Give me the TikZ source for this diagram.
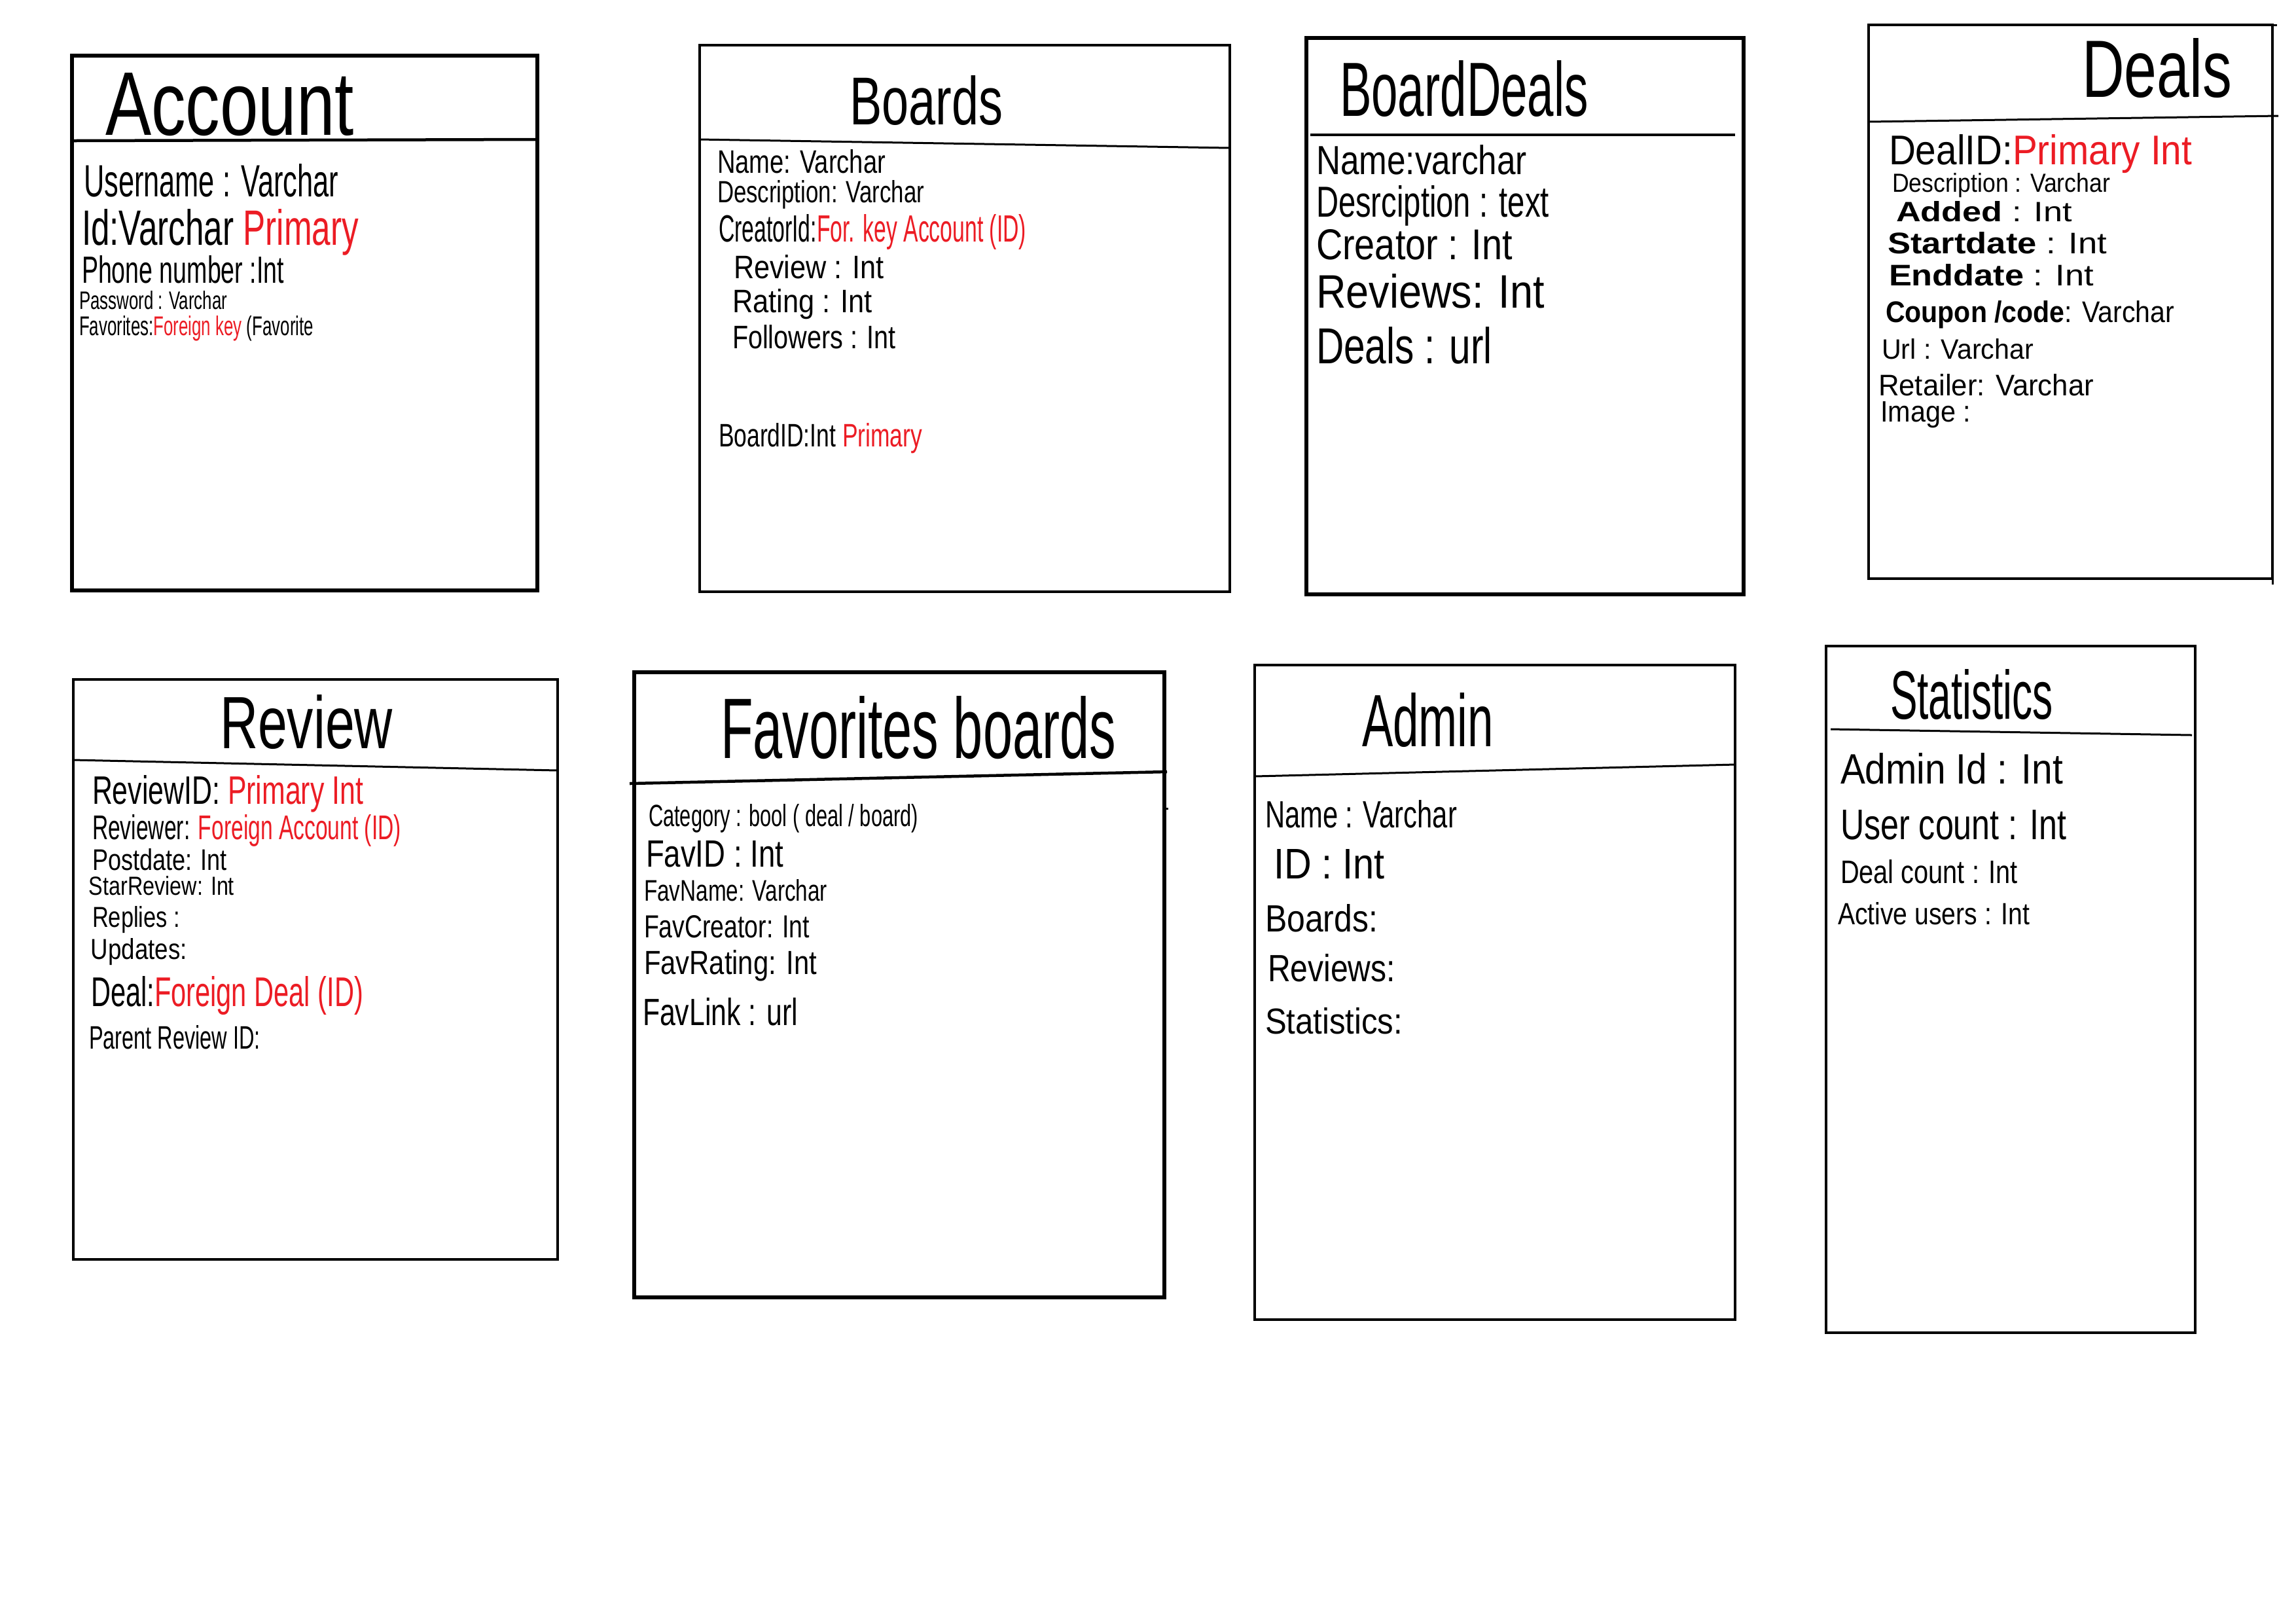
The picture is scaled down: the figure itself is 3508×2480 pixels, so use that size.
\documentclass[tikz,border=0pt]{standalone}
\usepackage{fontspec}
\setmainfont{Liberation Sans}
\usepackage{graphicx}
\usetikzlibrary{calc}
\newlength\pxu
\setlength\pxu{0.01cm}
\definecolor{pen}{RGB}{236,28,36}
% fit a line of text to a given width and height (in reference pixels)
\newcommand\fitwh[3]{\resizebox{#1\pxu}{#2\pxu}{#3}}
\newcommand\rd[1]{\textcolor{pen}{#1}}
\begin{document}
\begin{tikzpicture}[x=0.01cm,y=-0.01cm,
  thickbox/.style={draw, line width=6\pxu, inner sep=0pt, outer sep=0pt, anchor=north west},
  thinbox/.style={draw, line width=3.5\pxu, inner sep=0pt, outer sep=0pt, anchor=north west},
  divthick/.style={line width=4.5\pxu},
  divthin/.style={line width=3\pxu},
  txt/.style={anchor=base west, inner sep=0pt, outer sep=0pt}]
\fill[white] (0,0) rectangle (3508,2480);
\useasboundingbox (0,0) rectangle (3508,2480);

% ---------- Account ----------
\node[thickbox, minimum width=711\pxu, minimum height=817\pxu] (account) at (110,85) {};
\draw[divthick] ($(account.north west)+(0,130)$) -- ($(account.north east)+(0,128)$);
\node[txt] (accT) at (161,206) {\fitwh{380}{95}{Account}};
\node[txt] (acc1) at (128,300) {\fitwh{389}{50}{Username : Varchar}};
\node[txt] (acc2) at (125,374) {\fitwh{423}{55}{Id:Varchar \rd{Primary}}};
\node[txt] (acc3) at (125,432) {\fitwh{309}{42}{Phone number :Int}};
\node[txt] (acc4) at (121,472) {\fitwh{226}{28}{Password : Varchar}};
\node[txt] (acc5) at (121,512) {\fitwh{358}{30}{Favorites:\rd{Foreign key} (Favorite}};

% ---------- Boards ----------
\node[thinbox, minimum width=810\pxu, minimum height=835\pxu] (boards) at (1069,69) {};
\draw[divthin] ($(boards.north west)+(0,144)$) -- ($(boards.north east)+(0,157)$);
\node[txt] (bT) at (1298,190) {\fitwh{234}{75}{Boards}};
\node[txt] (b1) at (1096,264) {\fitwh{257}{36}{Name: Varchar}};
\node[txt] (b2) at (1096,309) {\fitwh{316}{34}{Description: Varchar}};
\node[txt] (b3) at (1098,369) {\fitwh{470}{42}{CreatorId:\rd{For. key Account (ID)}}};
\node[txt] (b4) at (1121,425) {\fitwh{230}{36}{Review : Int}};
\node[txt] (b5) at (1119,477) {\fitwh{214}{36}{Rating : Int}};
\node[txt] (b6) at (1119,532) {\fitwh{250}{36}{Followers : Int}};
\node[txt] (b7) at (1098,682) {\fitwh{311}{36}{BoardID:Int \rd{Primary}}};

% ---------- BoardDeals ----------
\node[thickbox, minimum width=668\pxu, minimum height=850\pxu] (boarddeals) at (1996,58) {};
\draw[divthick] ($(boarddeals.north west)+(6,148)$) -- ($(boarddeals.north east)+(-13,148)$);
\node[txt] (dT) at (2047,177) {\fitwh{380}{85}{BoardDeals}};
\node[txt] (d1) at (2011,266) {\fitwh{322}{45}{Name:varchar}};
\node[txt] (d2) at (2011,331) {\fitwh{356}{48}{Desrciption : text}};
\node[txt] (d3) at (2011,396) {\fitwh{300}{46}{Creator : Int}};
\node[txt] (d4) at (2011,470) {\fitwh{349}{52}{Reviews: Int}};
\node[txt] (d5) at (2011,555) {\fitwh{269}{56}{Deals : url}};

% ---------- Deals ----------
\node[thinbox, minimum width=617\pxu, minimum height=846\pxu] (deals) at (2855,38) {};
\draw[divthin] (deals.north east) -- ++(7,0);
\draw[divthin] (deals.south east) -- ++(0,9);
\draw[divthin] ($(deals.north west)+(0,148)$) -- ($(deals.north east)+(9,139)$);
\node[txt] (eT) at (3181,148) {\fitwh{229}{90}{Deals}};
\node[txt] (e1) at (2886,251) {\fitwh{463}{46}{DealID:\rd{Primary Int}}};
\node[txt] (e2) at (2891,293) {\fitwh{333}{29}{Description : Varchar}};
\node[txt] (e3) at (2897,338) {\fitwh{269}{31}{\textbf{Added} : Int}};
\node[txt] (e4) at (2884,387) {\fitwh{335}{33}{\textbf{Startdate} : Int}};
\node[txt] (e5) at (2886,436) {\fitwh{313}{33}{\textbf{Enddate} : Int}};
\node[txt] (e6) at (2881,492) {\fitwh{441}{33}{\textbf{Coupon /code}: Varchar}};
\node[txt] (e7) at (2875,548) {\fitwh{232}{31}{Url : Varchar}};
\node[txt] (e8) at (2870,604) {\fitwh{329}{33}{Retailer: Varchar}};
\node[txt] (e9) at (2873,644) {\fitwh{138}{31}{Image :}};

% ---------- Review ----------
\node[thinbox, minimum width=740\pxu, minimum height=886\pxu] (review) at (112,1038) {};
\draw[divthin] ($(review.north west)+(0,123)$) -- ($(review.north east)+(0,139)$);
\node[txt] (rT) at (336,1143) {\fitwh{264}{82}{Review}};
\node[txt] (r1) at (141,1228) {\fitwh{414}{44}{ReviewID: \rd{Primary Int}}};
\node[txt] (r2) at (141,1282) {\fitwh{472}{38}{Reviewer: \rd{Foreign Account (ID)}}};
\node[txt] (r3) at (141,1329) {\fitwh{206}{33}{Postdate: Int}};
\node[txt] (r4) at (136,1367) {\fitwh{222}{29}{StarReview: Int}};
\node[txt] (r5) at (141,1416) {\fitwh{134}{32}{Replies :}};
\node[txt] (r6) at (139,1465) {\fitwh{147}{32}{Updates:}};
\node[txt] (r7) at (139,1537) {\fitwh{416}{46}{Deal:\rd{Foreign Deal (ID)}}};
\node[txt] (r8) at (136,1602) {\fitwh{262}{36}{Parent Review ID:}};

% ---------- Favorites boards ----------
\node[thickbox, minimum width=810\pxu, minimum height=955\pxu] (favorites) at (969,1027) {};
\draw[divthick] ($(favorites.north west)+(-7,170)$) -- ($(favorites.north east)+(4,152)$);
\draw[divthin] ($(favorites.north east)+(0,208)$) -- ++(6,0);
\node[txt] (fT) at (1101,1158) {\fitwh{604}{95}{Favorites boards}};
\node[txt] (f1) at (991,1262) {\fitwh{412}{34}{Category : bool ( deal / board)}};
\node[txt] (f2) at (987,1324) {\fitwh{210}{40}{FavID : Int}};
\node[txt] (f3) at (984,1376) {\fitwh{280}{33}{FavName: Varchar}};
\node[txt] (f4) at (984,1432) {\fitwh{253}{34}{FavCreator: Int}};
\node[txt] (f5) at (984,1488) {\fitwh{264}{37}{FavRating: Int}};
\node[txt] (f6) at (982,1566) {\fitwh{237}{42}{FavLink : url}};

% ---------- Admin ----------
\node[thinbox, minimum width=734\pxu, minimum height=1000\pxu] (admin) at (1917,1016) {};
\draw[divthin] ($(admin.north west)+(0,170)$) -- ($(admin.north east)+(0,152)$);
\node[txt] (aT) at (2081,1140) {\fitwh{201}{82}{Admin}};
\node[txt] (a1) at (1933,1264) {\fitwh{293}{42}{Name : Varchar}};
\node[txt] (a2) at (1946,1342) {\fitwh{170}{45}{ID : Int}};
\node[txt] (a3) at (1933,1423) {\fitwh{172}{42}{Boards:}};
\node[txt] (a4) at (1937,1499) {\fitwh{195}{42}{Reviews:}};
\node[txt] (a5) at (1933,1579) {\fitwh{210}{40}{Statistics:}};

% ---------- Statistics ----------
\node[thinbox, minimum width=564\pxu, minimum height=1049\pxu] (statistics) at (2790,987) {};
\draw[divthin] ($(statistics.north west)+(7,127)$) -- ($(statistics.north east)+(-5,136)$);
\node[txt] (sT) at (2888,1098) {\fitwh{249}{76}{Statistics}};
\node[txt] (s1) at (2812,1197) {\fitwh{340}{47}{Admin Id : Int}};
\node[txt] (s2) at (2812,1282) {\fitwh{345}{45}{User count : Int}};
\node[txt] (s3) at (2812,1349) {\fitwh{271}{36}{Deal count : Int}};
\node[txt] (s4) at (2808,1412) {\fitwh{293}{34}{Active users : Int}};
\end{tikzpicture}
\end{document}
